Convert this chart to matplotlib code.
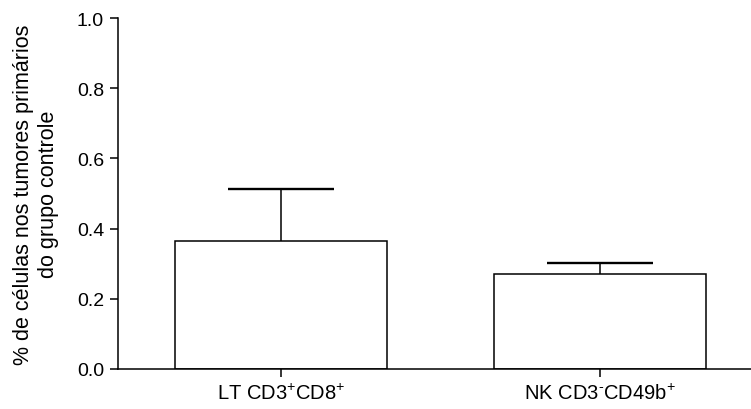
import matplotlib
matplotlib.use("Agg")
import matplotlib.pyplot as plt
import numpy

#####################################################################
# Data

groups = ["LT CD3$^{+}$CD8$^{+}$", "NK CD3$^{\u2010}$CD49b$^{+}$"]
means = [0.365, 0.270]
errors = [0.149, 0.033]

#####################################################################
# Style

plt.rcParams['font.family'] = ['Liberation Sans', 'DejaVu Sans']
plt.rcParams['mathtext.fontset'] = 'custom'
plt.rcParams['mathtext.rm'] = 'Liberation Sans'
plt.rcParams['mathtext.it'] = 'Liberation Sans'
plt.rcParams['mathtext.bf'] = 'Liberation Sans'

fig = plt.figure(figsize=(7.51, 4.10), dpi=100)
ax = fig.add_axes([118/751, 40/410, 1 - 118/751, (370-19)/410])

x = numpy.arange(len(groups))
lw = 1.1
bar_w = 0.667
cap_w = bar_w / 4

######################################################################
# bars + upper error bars only

ax.bar(x, means, width=bar_w, color='white', edgecolor='black', linewidth=lw, zorder=2)
tops = numpy.array(means) + numpy.array(errors)
ax.vlines(x, means, tops, color='black', linewidth=lw, zorder=1)
ax.hlines(tops, x - cap_w, x + cap_w, color='black', linewidth=1.7, zorder=1)

ax.set_xlim(-0.511, 1.473)
ax.set_ylim(0, 1.0)
ax.set_yticks([0.0, 0.2, 0.4, 0.6, 0.8, 1.0])
ax.set_yticklabels(['0.0', '0.2', '0.4', '0.6', '0.8', '1.0'])
ax.set_xticks(x)
ax.set_xticklabels(groups, fontsize=14.5)

for s in ['top', 'right']:
    ax.spines[s].set_visible(False)
for s in ['left', 'bottom']:
    ax.spines[s].set_linewidth(lw)

ax.tick_params(axis='y', labelsize=14, width=lw, length=6, pad=4)
ax.tick_params(axis='x', width=lw, length=6, pad=4)
ax.set_ylabel('% de células nos tumores primários\ndo grupo controle', fontsize=15.5,
              linespacing=1.25, labelpad=13)

plt.savefig('out.png', dpi=100)
